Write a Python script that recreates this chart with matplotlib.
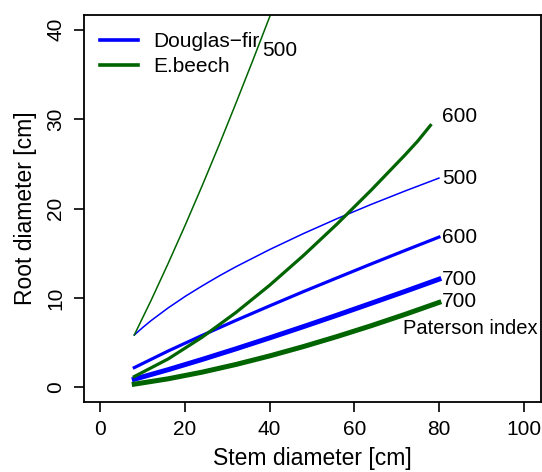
import matplotlib
matplotlib.use("Agg")
import matplotlib.pyplot as plt
from matplotlib.lines import Line2D

plt.rcParams['font.family'] = ['Liberation Sans', 'DejaVu Sans']

# Stem diameter [cm]
stem = [8, 10, 12, 16, 20, 24, 28, 32, 40, 48, 56, 64, 72, 80]
stem_b500 = [8, 12, 16, 20, 24, 28, 32, 36, 40, 44]
stem_b600 = [8, 16, 24, 32, 40, 48, 56, 64, 72, 75, 78]
stem_700 = [8, 16, 24, 32, 40, 48, 56, 64, 72, 80]

# Root diameter [cm], Douglas-fir
df500 = [5.85, 6.69, 7.47, 8.88, 10.16, 11.33, 12.44, 13.48, 15.41, 17.20, 18.88, 20.46, 21.96, 23.40]
df600 = [2.20, 4.06, 5.80, 7.48, 9.11, 10.71, 12.26, 13.80, 15.31, 16.80]
df700 = [0.90, 1.97, 3.11, 4.30, 5.53, 6.79, 8.08, 9.40, 10.73, 12.09]

# Root diameter [cm], E.beech
eb500 = [5.85, 9.75, 13.85, 18.10, 22.50, 27.05, 31.75, 36.55, 41.45, 46.45]
eb600 = [1.20, 3.17, 5.59, 8.36, 11.42, 14.75, 18.30, 22.06, 26.00, 27.55, 29.30]
eb700 = [0.35, 0.95, 1.69, 2.55, 3.51, 4.56, 5.69, 6.89, 8.16, 9.49]

labels = [("500", 38.2, 37.7), ("600", 80.8, 30.3), ("500", 80.8, 23.3),
          ("600", 80.8, 16.8), ("700", 80.8, 12.1), ("700", 80.8, 9.6)]

blue = "#0000FF"
green = "#006400"

fig = plt.figure(figsize=(5.42, 4.72), dpi=100)
ax = fig.add_axes([83.5 / 542, 1 - 401.6 / 472, 457 / 542, 386.2 / 472])

ax.plot(stem, df500, color=blue, lw=1.1)
ax.plot(stem_700, df600, color=blue, lw=2.3)
ax.plot(stem_700, df700, color=blue, lw=3.6)
ax.plot(stem_b500, eb500, color=green, lw=1.1)
ax.plot(stem_b600, eb600, color=green, lw=2.3)
ax.plot(stem_700, eb700, color=green, lw=3.6)

for t, x, y in labels:
    ax.text(x, y, t, fontsize=15, ha='left', va='center')
ax.text(71.5, 6.6, "Paterson index", fontsize=14.5, ha='left', va='center')

ax.set_xlim(-4, 104)
ax.set_ylim(-1.6, 41.6)
ax.set_xticks([0, 20, 40, 60, 80, 100])
ax.set_yticks([0, 10, 20, 30, 40])
ax.tick_params(direction='out', length=7, width=1.2, labelsize=15, pad=6)
for lab in ax.get_yticklabels():
    lab.set_rotation(90)
    lab.set_va('center')
for s in ax.spines.values():
    s.set_linewidth(1.3)

ax.set_xlabel("Stem diameter [cm]", fontsize=16.5, labelpad=6)
ax.set_ylabel("Root diameter [cm]", fontsize=16.5, labelpad=7)

handles = [Line2D([], [], color=blue, lw=2.6), Line2D([], [], color=green, lw=2.6)]
ax.legend(handles, ["Douglas\u2212fir", "E.beech"], loc='upper left', frameon=False,
          fontsize=15, handlelength=1.8, handletextpad=0.75, labelspacing=0.3,
          bbox_to_anchor=(0.0, 1.0), borderaxespad=0.4)

fig.savefig("out.png", dpi=100)
